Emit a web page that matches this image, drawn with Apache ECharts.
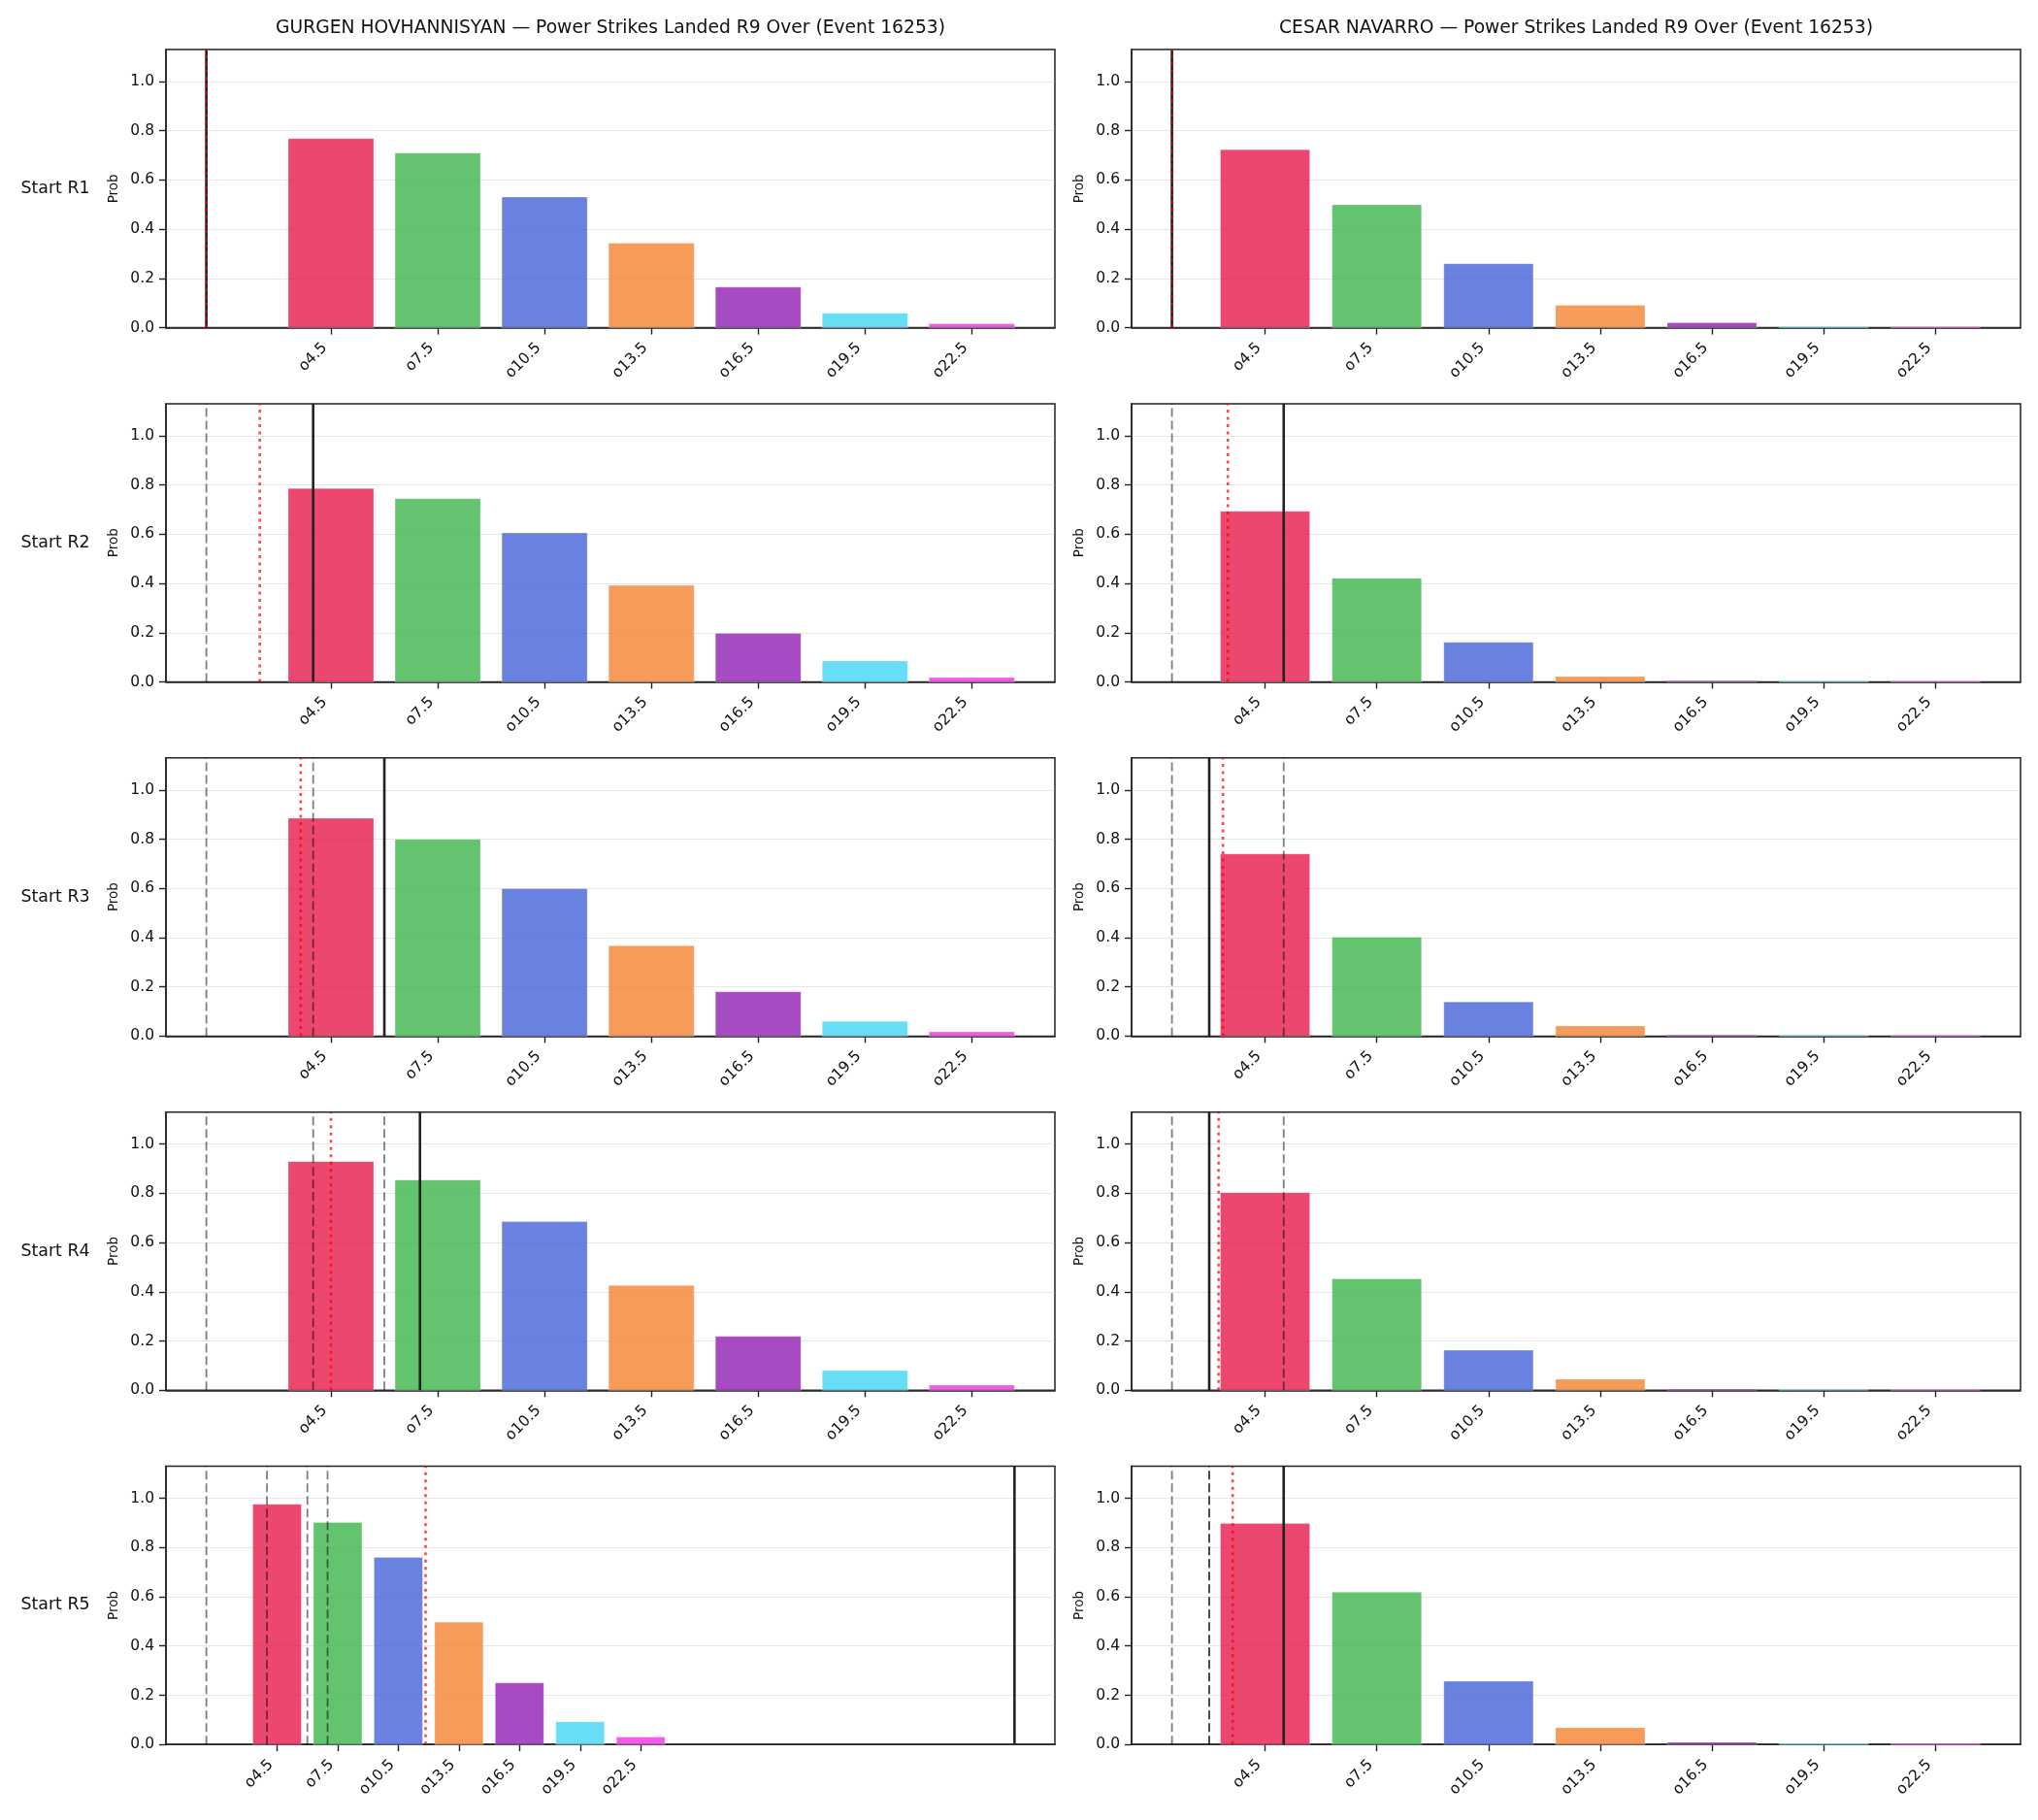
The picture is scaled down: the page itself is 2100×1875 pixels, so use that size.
<!DOCTYPE html>
<html>
<head>
<meta charset="utf-8">
<script src="https://cdn.jsdelivr.net/npm/echarts@6.0.0/dist/echarts.min.js"></script>
<style>
  html, body { margin: 0; padding: 0; background: #fff; }
  #chart { width: 2100px; height: 1875px; }
</style>
</head>
<body>
<div id="chart"></div>
<script type="text/javascript">
    // thresholds (bar centres) and their tick labels
    var thresholds = [4.5, 7.5, 10.5, 13.5, 16.5, 19.5, 22.5];
    var tickLabels = ['o4.5', 'o7.5', 'o10.5', 'o13.5', 'o16.5', 'o19.5', 'o22.5'];
    var rowLabels = ['Start R1', 'Start R2', 'Start R3', 'Start R4', 'Start R5'];
    var yTicks = [0, 0.2, 0.4, 0.6, 0.8, 1.0];

    // GURGEN HOVHANNISYAN, one row per start round
    var gurgenProbs = [
        [0.768, 0.709, 0.531, 0.343, 0.165, 0.059, 0.016],
        [0.786, 0.744, 0.605, 0.392, 0.197, 0.085, 0.018],
        [0.885, 0.799, 0.599, 0.367, 0.180, 0.060, 0.017],
        [0.929, 0.854, 0.685, 0.426, 0.219, 0.080, 0.021],
        [0.976, 0.902, 0.760, 0.497, 0.250, 0.092, 0.030]
    ];
    var gurgenPrev = [[1], [1], [1, 4], [1, 4, 6], [1, 4, 6, 7]];
    var gurgenActual = [1, 4, 6, 7, 41];
    var gurgenExpected = [1, 2.5, 3.65, 4.5, 11.85];

    // CESAR NAVARRO
    var cesarProbs = [
        [0.723, 0.499, 0.260, 0.091, 0.020, 0.004, 0.004],
        [0.693, 0.421, 0.161, 0.022, 0.005, 0.004, 0.004],
        [0.740, 0.402, 0.139, 0.041, 0.005, 0.004, 0.004],
        [0.803, 0.453, 0.163, 0.045, 0.005, 0.004, 0.004],
        [0.898, 0.619, 0.257, 0.068, 0.009, 0.005, 0.005]
    ];
    var cesarPrev = [[2], [2], [2, 5], [2, 5], [2, 5, 3, 3]];
    var cesarActual = [2, 5, 3, 3, 5];
    var cesarExpected = [2, 3.5, 3.37, 3.25, 3.63];

    var titles = [
        'GURGEN HOVHANNISYAN \u2014 Power Strikes Landed R9 Over (Event 16253)',
        'CESAR NAVARRO \u2014 Power Strikes Landed R9 Over (Event 16253)'
    ];

    var barColors = ['#E6194B', '#3CB44B', '#4363D8', '#F58231', '#911EB4', '#42D4F4', '#F032E6'];
    var BAR_W = 2.4;
    var Y_MAX = 1.13;
    var FONT = 'DejaVu Sans';

    var colLeft = [171, 1166];
    var plotW = 916;
    var rowTop0 = 51, rowStep = 364.9, plotH = 286.6;

    var fighters = [
        {probs: gurgenProbs, prev: gurgenPrev, actual: gurgenActual, expected: gurgenExpected},
        {probs: cesarProbs, prev: cesarPrev, actual: cesarActual, expected: cesarExpected}
    ];

    var grids = [], xAxes = [], yAxes = [], series = [], graphics = [];

    function barRender(params, api) {
        var x = api.value(0), y = api.value(1);
        var p0 = api.coord([x - BAR_W / 2, y]);
        var p1 = api.coord([x + BAR_W / 2, 0]);
        return {
            type: 'rect',
            shape: {x: p0[0], y: p0[1], width: p1[0] - p0[0], height: p1[1] - p0[1]},
            style: {fill: barColors[params.dataIndex], opacity: 0.8, stroke: 'rgba(255,255,255,0.6)', lineWidth: 0.6}
        };
    }
    function vlineRender(kind) {
        return function (params, api) {
            var x = api.value(0);
            var a = api.coord([x, 0]);
            var b = api.coord([x, Y_MAX]);
            var style;
            if (kind === 'prev') style = {stroke: 'rgba(0,0,0,0.5)', lineWidth: 1.8, lineDash: [9, 4]};
            else if (kind === 'actual') style = {stroke: '#222', lineWidth: 2.6};
            else style = {stroke: 'rgba(255,0,0,0.72)', lineWidth: 2.6, lineDash: [3, 4.5]};
            return {type: 'line', shape: {x1: a[0], y1: a[1], x2: b[0], y2: b[1]}, style: style};
        };
    }

    var idx = 0;
    for (var r = 0; r < 5; r++) {
        for (var c = 0; c < 2; c++) {
            var f = fighters[c];
            var marks = f.prev[r].concat([f.actual[r], f.expected[r]]);
            var lo = Math.min.apply(null, marks.concat([thresholds[0] - BAR_W / 2]));
            var hi = Math.max.apply(null, marks.concat([thresholds[thresholds.length - 1] + BAR_W / 2]));
            var pad = (hi - lo) * 0.05;
            var gridTop = rowTop0 + r * rowStep;

            grids.push({left: colLeft[c], top: gridTop, width: plotW, height: plotH,
                show: true, borderColor: '#222', borderWidth: 1.5, backgroundColor: 'transparent'});
            xAxes.push({
                gridIndex: idx, type: 'value', min: lo - pad, max: hi + pad,
                axisLine: {show: true, onZero: false, lineStyle: {color: '#222', width: 1.5}},
                axisTick: {show: true, customValues: thresholds, length: 7, lineStyle: {color: '#222', width: 1.4}},
                axisLabel: {customValues: thresholds, rotate: 45, margin: 12, padding: [0, 9, 0, 0],
                    fontSize: 15.5, color: '#111', fontFamily: FONT,
                    formatter: function (v) { return 'o' + v; }},
                splitLine: {show: false}
            });
            yAxes.push({
                gridIndex: idx, type: 'value', min: 0, max: Y_MAX, interval: 0.2,
                name: 'Prob', nameLocation: 'middle', nameGap: 47,
                nameTextStyle: {fontSize: 13.5, color: '#111', fontFamily: FONT},
                axisLine: {show: true, onZero: false, lineStyle: {color: '#222', width: 1.5}},
                axisTick: {show: true, customValues: yTicks, length: 7, lineStyle: {color: '#222', width: 1.4}},
                axisLabel: {customValues: yTicks, margin: 12, fontSize: 15.5, color: '#111', fontFamily: FONT,
                    formatter: function (v) { return v.toFixed(1); }},
                splitLine: {show: true, lineStyle: {color: 'rgba(176,176,176,0.3)', width: 1.2}}
            });

            series.push({
                type: 'custom', xAxisIndex: idx, yAxisIndex: idx, z: 2,
                renderItem: barRender, encode: {x: 0, y: 1},
                data: thresholds.map(function (t, i) { return [t, f.probs[r][i]]; })
            });
            series.push({
                type: 'custom', xAxisIndex: idx, yAxisIndex: idx, z: 6,
                renderItem: vlineRender('prev'), encode: {x: 0, y: 1},
                data: f.prev[r].map(function (v) { return [v, 0]; })
            });
            series.push({
                type: 'custom', xAxisIndex: idx, yAxisIndex: idx, z: 7,
                renderItem: vlineRender('actual'), encode: {x: 0, y: 1},
                data: [[f.actual[r], 0]]
            });
            series.push({
                type: 'custom', xAxisIndex: idx, yAxisIndex: idx, z: 8,
                renderItem: vlineRender('expected'), encode: {x: 0, y: 1},
                data: [[f.expected[r], 0]]
            });
            idx++;
        }
        graphics.push({
            type: 'text', x: 57, y: rowTop0 + r * rowStep + plotH / 2,
            style: {text: rowLabels[r], font: '17.4px "DejaVu Sans"', fill: '#111', align: 'center', verticalAlign: 'middle'}
        });
    }
    for (var c2 = 0; c2 < 2; c2++) {
        graphics.push({
            type: 'text', x: colLeft[c2] + plotW / 2, y: 29.5,
            style: {text: titles[c2], font: '18.7px "DejaVu Sans"', fill: '#111', align: 'center', verticalAlign: 'middle'}
        });
    }

    var chart = echarts.init(document.getElementById('chart'));
    chart.setOption({
        animation: false,
        backgroundColor: '#fff',
        textStyle: {fontFamily: FONT},
        grid: grids,
        xAxis: xAxes,
        yAxis: yAxes,
        series: series,
        graphic: graphics
    });
</script>
</body>
</html>
